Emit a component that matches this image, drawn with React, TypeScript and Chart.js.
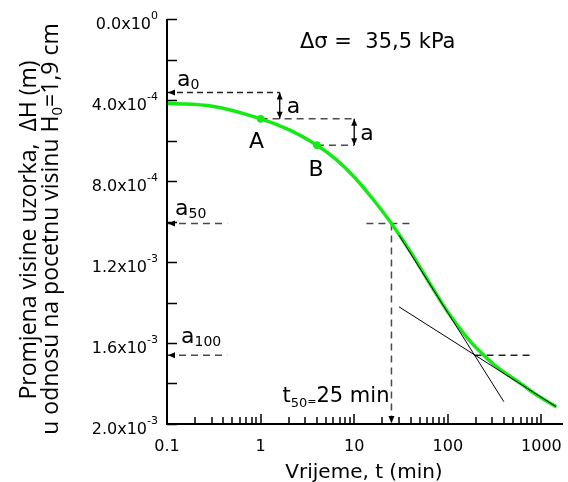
import { useEffect, useRef } from 'react';
import { Chart, registerables } from 'chart.js';

Chart.register(...registerables);

// Consolidation curve: settlement ΔH (m) against time t (min)
const timeMin = [0.1, 0.316, 1, 2, 4, 6.3, 10, 15.8, 25, 40, 63, 100, 158, 200, 316, 630, 890, 1440];
const settlement = [
  4.16e-4, 4.32e-4, 4.93e-4, 5.46e-4, 6.23e-4, 6.91e-4, 7.8e-4, 8.89e-4, 1.01e-3, 1.15e-3,
  1.3e-3, 1.447e-3, 1.57e-3, 1.622e-3, 1.709e-3, 1.807e-3, 1.857e-3, 1.915e-3,
];

// Points A and B (t and 4t) used for the a0 construction
const markTimes = [1, 4];
const markValues = [4.93e-4, 6.23e-4];
const markNames = ['A', 'B'];

// Characteristic settlements and t50
const a0 = 3.63e-4;
const a50 = 1.01e-3;
const a100 = 1.66e-3;
const t50 = 25;
const aStepTimes = [1.6, 10];

// Tangent lines used to locate a100
const steepTangentT = [30, 397];
const steepTangentV = [1.067e-3, 1.89e-3];
const tailTangentT = [30, 1440];
const tailTangentV = [1.421e-3, 1.915e-3];

// Axis ticks
const xMin = 0.1;
const xMax = 1700;
const xMajorTicks = [1, 10, 100, 1000];
const xLabelTicks = [0.1, 1, 10, 100, 1000];
const xLabelTexts = ['0.1', '1', '10', '100', '1000'];
const xDecades = [0.1, 1, 10, 100];
const xMinorFactors = [2, 3, 4, 5, 6, 7, 8, 9];
const yMax = 2.0e-3;
const yTickValues = [0, 2e-4, 4e-4, 6e-4, 8e-4, 1.0e-3, 1.2e-3, 1.4e-3, 1.6e-3, 1.8e-3, 2.0e-3];
const yLabelValues = [0, 4e-4, 8e-4, 1.2e-3, 1.6e-3, 2.0e-3];
const yLabelMantissa = ['0.0', '4.0', '8.0', '1.2', '1.6', '2.0'];
const yLabelExponent = ['0', '-4', '-4', '-3', '-3', '-3'];

const FONT = '"DejaVu Sans", sans-serif';
const TITLE_FONT = '"Open Sans", sans-serif';
const GREEN = '#14ea14';
const DASH_COLOR = '#4a4a4a';

type Run = { text: string; size: number; dy: number };

function runsWidth(ctx: CanvasRenderingContext2D, runs: Run[], family: string) {
  let w = 0;
  for (const r of runs) {
    ctx.font = `${r.size}px ${family}`;
    w += ctx.measureText(r.text).width;
  }
  return w;
}

function drawRuns(
  ctx: CanvasRenderingContext2D,
  x: number,
  y: number,
  runs: Run[],
  align: 'left' | 'right' | 'center',
  family = FONT,
) {
  const total = runsWidth(ctx, runs, family);
  let cx = align === 'left' ? x : align === 'right' ? x - total : x - total / 2;
  ctx.textAlign = 'left';
  ctx.textBaseline = 'alphabetic';
  for (const r of runs) {
    ctx.font = `${r.size}px ${family}`;
    ctx.fillText(r.text, cx, y + r.dy);
    cx += ctx.measureText(r.text).width;
  }
}

function arrowHead(ctx: CanvasRenderingContext2D, x: number, y: number, dir: 'left' | 'up' | 'down') {
  const len = 7;
  const half = 3;
  ctx.beginPath();
  if (dir === 'left') {
    ctx.moveTo(x, y);
    ctx.lineTo(x + len, y - half);
    ctx.lineTo(x + len, y + half);
  } else if (dir === 'up') {
    ctx.moveTo(x, y);
    ctx.lineTo(x - half, y + len);
    ctx.lineTo(x + half, y + len);
  } else {
    ctx.moveTo(x, y);
    ctx.lineTo(x - half, y - len);
    ctx.lineTo(x + half, y - len);
  }
  ctx.closePath();
  ctx.fill();
}

const seg = (x1: number, y1: number, x2: number, y2: number) => [
  { x: x1, y: y1 },
  { x: x2, y: y2 },
];

const dashed = (data: { x: number; y: number }[], color = DASH_COLOR, dash = [7, 5]) => ({
  data,
  borderColor: color,
  borderWidth: 1.5,
  borderDash: dash,
  pointRadius: 0,
  order: 3,
});

const solid = (data: { x: number; y: number }[], width = 1.2) => ({
  data,
  borderColor: '#000',
  borderWidth: width,
  pointRadius: 0,
  order: 0,
});

const overlayPlugin = {
  id: 'consolidationOverlay',
  afterDraw(chart: any) {
    const ctx: CanvasRenderingContext2D = chart.ctx;
    const xs = chart.scales.x;
    const ys = chart.scales.y;
    const { left, right, top, bottom } = chart.chartArea;
    const px = (v: number) => xs.getPixelForValue(v);
    const py = (v: number) => ys.getPixelForValue(v);

    ctx.save();
    ctx.fillStyle = '#000';
    ctx.strokeStyle = '#000';

    // axes
    ctx.lineWidth = 2;
    ctx.beginPath();
    ctx.moveTo(left, top);
    ctx.lineTo(left, bottom);
    ctx.lineTo(right, bottom);
    ctx.stroke();

    // inward ticks
    ctx.lineWidth = 1.5;
    ctx.beginPath();
    for (const v of yTickValues) {
      const y = Math.round(py(v)) + 0.5;
      ctx.moveTo(left, y);
      ctx.lineTo(left + 10, y);
    }
    for (const v of xMajorTicks) {
      const x = Math.round(px(v));
      ctx.moveTo(x, bottom);
      ctx.lineTo(x, bottom - 10);
    }
    for (const d of xDecades) {
      for (const f of xMinorFactors) {
        const v = d * f;
        if (v > xMax) continue;
        const x = Math.round(px(v));
        ctx.moveTo(x, bottom);
        ctx.lineTo(x, bottom - 7);
      }
    }
    ctx.stroke();

    // y tick labels with exponent
    yLabelValues.forEach((v, i) => {
      const y = py(v);
      drawRuns(
        ctx,
        left - 9,
        y + 10,
        [
          { text: `${yLabelMantissa[i]}x10`, size: 16, dy: 0 },
          { text: yLabelExponent[i], size: 11, dy: -10 },
        ],
        'right',
      );
    });

    // x tick labels
    ctx.font = `16px ${FONT}`;
    ctx.textAlign = 'center';
    ctx.textBaseline = 'alphabetic';
    xLabelTicks.forEach((v, i) => {
      ctx.fillText(xLabelTexts[i], px(v), bottom + 27);
    });

    // axis titles
    ctx.font = `20px ${FONT}`;
    ctx.fillText('Vrijeme, t (min)', 364, 478);

    ctx.save();
    ctx.translate(36, 230);
    ctx.rotate(-Math.PI / 2);
    drawRuns(ctx, 0, 0, [{ text: 'Promjena visine uzorka,  ΔH (m)', size: 23, dy: 0 }], 'center', TITLE_FONT);
    ctx.restore();
    ctx.save();
    ctx.translate(58, 229);
    ctx.rotate(-Math.PI / 2);
    drawRuns(
      ctx,
      0,
      0,
      [
        { text: 'u odnosu na pocetnu visinu H', size: 23, dy: 0 },
        { text: '0', size: 15, dy: 4 },
        { text: '=1,9 cm', size: 23, dy: 0 },
      ],
      'center',
      TITLE_FONT,
    );
    ctx.restore();

    // arrow heads of the construction lines
    arrowHead(ctx, left + 1, py(a0), 'left');
    arrowHead(ctx, left + 1, py(a50), 'left');
    arrowHead(ctx, left + 1, py(a100), 'left');
    arrowHead(ctx, px(aStepTimes[0]), py(a0), 'up');
    arrowHead(ctx, px(aStepTimes[0]), py(markValues[0]), 'down');
    arrowHead(ctx, px(aStepTimes[1]), py(markValues[0]), 'up');
    arrowHead(ctx, px(aStepTimes[1]), py(markValues[1]), 'down');
    arrowHead(ctx, px(t50), bottom - 1, 'down');

    // annotation labels
    drawRuns(ctx, left + 133, top + 29, [{ text: 'Δσ =  35,5 kPa', size: 21, dy: 0 }], 'left');
    drawRuns(
      ctx,
      left + 10,
      py(a0) - 7,
      [
        { text: 'a', size: 22, dy: 0 },
        { text: '0', size: 14, dy: 3 },
      ],
      'left',
    );
    drawRuns(
      ctx,
      left + 8,
      py(a50) - 9,
      [
        { text: 'a', size: 22, dy: 0 },
        { text: '50', size: 14, dy: 3 },
      ],
      'left',
    );
    drawRuns(
      ctx,
      left + 14,
      py(a100) - 12,
      [
        { text: 'a', size: 22, dy: 0 },
        { text: '100', size: 14, dy: 3 },
      ],
      'left',
    );
    drawRuns(
      ctx,
      px(aStepTimes[0]) + 7,
      (py(a0) + py(markValues[0])) / 2 + 7,
      [{ text: 'a', size: 22, dy: 0 }],
      'left',
    );
    drawRuns(
      ctx,
      px(aStepTimes[1]) + 6,
      (py(markValues[0]) + py(markValues[1])) / 2 + 8,
      [{ text: 'a', size: 22, dy: 0 }],
      'left',
    );
    drawRuns(ctx, px(markTimes[0]) - 4, py(markValues[0]) + 29, [{ text: markNames[0], size: 22, dy: 0 }], 'center');
    drawRuns(ctx, px(markTimes[1]) - 1, py(markValues[1]) + 31, [{ text: markNames[1], size: 22, dy: 0 }], 'center');
    drawRuns(
      ctx,
      px(t50) - 2,
      bottom - 22,
      [
        { text: 't', size: 21, dy: 0 },
        { text: '50', size: 13, dy: 5 },
        { text: '=', size: 11, dy: 3 },
        { text: '25 min', size: 21, dy: 0 },
      ],
      'right',
    );

    ctx.restore();
  },
};

export default function App() {
  const canvasRef = useRef<HTMLCanvasElement>(null);

  useEffect(() => {
    const canvas = canvasRef.current;
    if (!canvas) return;

    const curve = timeMin.map((t, i) => ({ x: t, y: settlement[i] }));
    const marks = markTimes.map((t, i) => ({ x: t, y: markValues[i] }));

    const chart = new Chart(canvas, {
      type: 'line',
      data: {
        datasets: [
          solid(seg(steepTangentT[0], steepTangentV[0], steepTangentT[1], steepTangentV[1]), 1),
          solid(seg(tailTangentT[0], tailTangentV[0], tailTangentT[1], tailTangentV[1]), 1),
          {
            data: curve,
            borderColor: GREEN,
            borderWidth: 3.5,
            pointRadius: 0,
            tension: 0.4,
            order: 1,
          },
          {
            data: marks,
            showLine: false,
            pointRadius: 3.5,
            pointBackgroundColor: GREEN,
            pointBorderColor: GREEN,
            order: 1,
          },
          // a0 construction
          dashed(seg(xMin, a0, aStepTimes[0], a0), '#222', [6, 4]),
          dashed(seg(markTimes[0], markValues[0], aStepTimes[1], markValues[0])),
          dashed(seg(markTimes[1], markValues[1], aStepTimes[1], markValues[1])),
          solid(seg(aStepTimes[0], a0, aStepTimes[0], markValues[0]), 1.3),
          solid(seg(aStepTimes[1], markValues[0], aStepTimes[1], markValues[1]), 1.3),
          // a50 and t50
          dashed(seg(xMin, a50, 0.44, a50)),
          dashed(seg(13.5, a50, 43, a50)),
          dashed(seg(t50, a50, t50, yMax)),
          // a100
          dashed(seg(xMin, a100, 0.44, a100)),
          dashed(seg(193, a100, 844, a100), '#222'),
        ] as any,
      },
      options: {
        responsive: false,
        animation: false,
        devicePixelRatio: 1,
        layout: { padding: { left: 167, top: 19, right: 0, bottom: 58 } },
        plugins: { legend: { display: false }, tooltip: { enabled: false } },
        scales: {
          x: { type: 'logarithmic', min: xMin, max: xMax, display: false },
          y: { type: 'linear', min: 0, max: yMax, reverse: true, display: false },
        },
      },
      plugins: [overlayPlugin],
    });

    return () => chart.destroy();
  }, []);

  return (
    <div style={{ position: 'absolute', left: 0, top: 0, width: 568, height: 482, background: '#fff' }}>
      <canvas ref={canvasRef} width={568} height={482} style={{ display: 'block' }} />
    </div>
  );
}
